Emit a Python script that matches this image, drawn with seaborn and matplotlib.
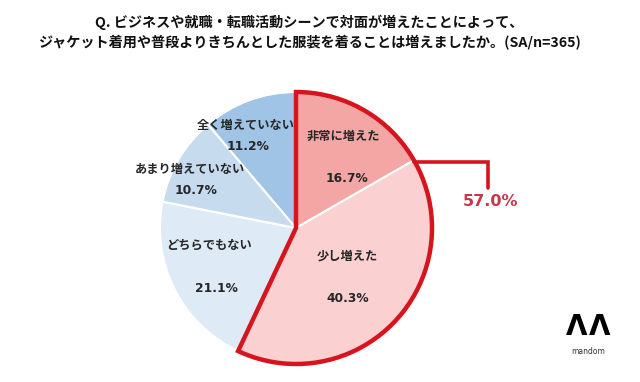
import matplotlib
matplotlib.use("Agg")
import matplotlib.pyplot as plt
from matplotlib.patches import Wedge
import seaborn as sns

# ---------------------------
# Data
# ---------------------------
labels = ["非常に増えた", "少し増えた", "どちらでもない", "あまり増えていない", "全く増えていない"]
values = [16.7, 40.3, 21.1, 10.7, 11.2]
highlight_n = 2          # first two answers = "増えた"
highlight_text = "57.0%"
title = ("Q. ビジネスや就職・転職活動シーンで対面が増えたことによって、\n"
         "ジャケット着用や普段よりきちんとした服装を着ることは増えましたか。(SA/n=365)")

colors = ["#F4A6A4", "#FAD1D0", "#DEEAF6", "#C7DBEF", "#A0C4E6"]

# label positions in image pixels (name, pct)
name_pos = [(343, 136), (347, 256), (209, 245), (190, 170), (246, 126)]
pct_pos = [(347, 178), (348, 298), (216, 289), (196, 191), (248, 146)]

W, H = 640, 382
CX, CY, R = 296, 228, 136
RED = "#D7141E"

sns.set_theme(style="white")
plt.rcParams["font.family"] = ["Noto Sans CJK JP", "DejaVu Sans"]

fig = plt.figure(figsize=(W / 100, H / 100), dpi=100)
ax = fig.add_axes([0, 0, 1, 1])

# pie (image y axis inverted -> counterclock=True gives clockwise look)
ax.pie(values, colors=colors, startangle=-90, counterclock=True,
       center=(CX, CY), radius=R, frame=True,
       wedgeprops=dict(edgecolor="white", linewidth=1.5))
ax.set_xlim(0, W)
ax.set_ylim(H, 0)
ax.set_aspect("equal")
ax.axis("off")

# red outline around the "増えた" group
share = sum(values[:highlight_n]) / sum(values) * 360
ax.add_patch(Wedge((CX, CY), R, -90, -90 + share, fill=False,
                   edgecolor=RED, linewidth=3.2, joinstyle="miter", zorder=5))

# callout line + total
ax.plot([414, 488, 488], [162, 162, 188], color=RED, lw=2.6,
        solid_joinstyle="miter", zorder=5)
ax.text(491, 201, highlight_text, color="#C8364A", fontsize=11.5,
        fontweight="bold", ha="center", va="center", family=["DejaVu Sans"])

# wedge labels
for lab, val, (nx, ny), (px, py) in zip(labels, values, name_pos, pct_pos):
    ax.text(nx, ny, lab, fontsize=8.8, fontweight="bold", color="#262626",
            ha="center", va="center")
    ax.text(px, py, f"{val:.1f}%", fontsize=8.8, fontweight="bold",
            color="#262626", ha="center", va="center", family=["DejaVu Sans"])

# title
fig.text(0.483, 0.915, title, ha="center", va="center", fontsize=10.2,
         fontweight="bold", color="#111111", linespacing=1.45)

# logo
ax.text(577, 327, "Λ", fontsize=20, fontweight="bold", ha="center",
        va="center", color="black", family=["DejaVu Sans"])
ax.text(600, 327, "Λ", fontsize=20, fontweight="bold", ha="center",
        va="center", color="black", family=["DejaVu Sans"])
ax.text(588, 351, "mandom", fontsize=5.5, ha="center", va="center",
        color="#333333", family=["DejaVu Sans"])

fig.savefig("out.png", dpi=100, facecolor="white")
